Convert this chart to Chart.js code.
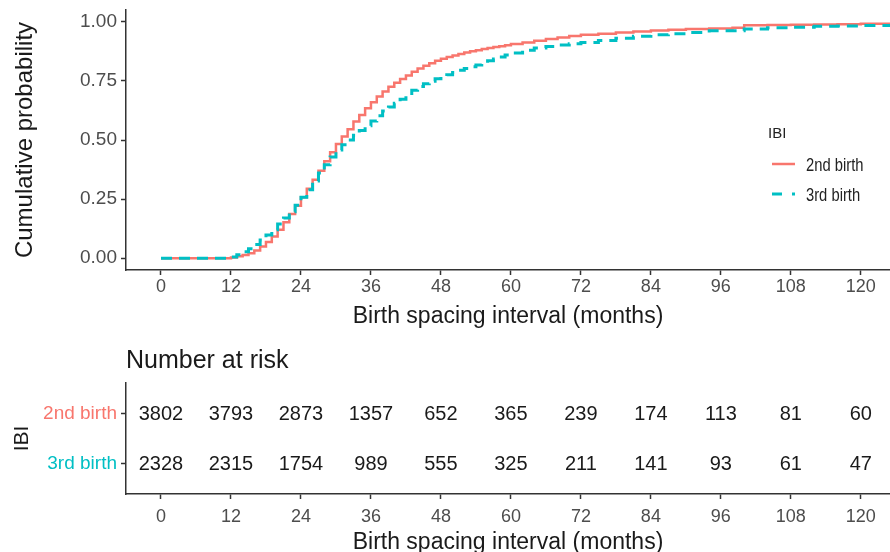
<!DOCTYPE html>
<html>
<head>
<meta charset="utf-8">
<script src="https://cdn.jsdelivr.net/npm/chart.js@4.4.1/dist/chart.umd.min.js"></script>
<style>
html, body { margin: 0; padding: 0; background: #fff; overflow: hidden; }
#cumInc { position: absolute; left: 0; top: 0; }
#riskTable { position: absolute; left: 0; top: 330px; }
</style>
</head>
<body>
<canvas id="cumInc" width="890" height="330"></canvas>
<canvas id="riskTable" width="890" height="226"></canvas>
<script>
// cumulative probability curves
var months = [0, 12, 13, 14, 15, 16, 17, 18, 19, 20, 21, 22, 23, 24, 25, 26, 27, 28, 29, 30,
    31, 32, 33, 34, 35, 36, 37, 38, 39, 40, 41, 42, 43, 44, 45, 46, 47, 48, 49, 50,
    51, 52, 53, 54, 55, 56, 57, 58, 59, 60, 62, 64, 66, 68, 70, 72, 75, 78, 81, 84,
    87, 90, 94, 98, 100, 104, 108, 112, 116, 120, 125];
var cum2nd = [0, 0.003, 0.008, 0.013, 0.021, 0.033, 0.049, 0.068, 0.092, 0.12, 0.152, 0.187, 0.222, 0.258, 0.294, 0.332, 0.37, 0.41, 0.448, 0.483,
    0.515, 0.546, 0.578, 0.606, 0.634, 0.66, 0.684, 0.705, 0.725, 0.742, 0.758, 0.773, 0.789, 0.803, 0.814, 0.825, 0.835, 0.844, 0.851, 0.858,
    0.864, 0.87, 0.875, 0.88, 0.885, 0.889, 0.893, 0.897, 0.901, 0.906, 0.913, 0.92, 0.927, 0.934, 0.94, 0.945, 0.95, 0.955, 0.959, 0.963,
    0.966, 0.97, 0.972, 0.975, 0.985, 0.987, 0.988, 0.989, 0.99, 0.992, 0.994];
var cum3rd = [0, 0.005, 0.015, 0.027, 0.04, 0.058, 0.077, 0.098, 0.12, 0.145, 0.17, 0.196, 0.224, 0.258, 0.29, 0.327, 0.36, 0.395, 0.428, 0.458,
    0.48, 0.5, 0.52, 0.54, 0.56, 0.58, 0.603, 0.623, 0.64, 0.655, 0.672, 0.69, 0.71, 0.726, 0.738, 0.749, 0.759, 0.767, 0.776, 0.786,
    0.795, 0.803, 0.81, 0.817, 0.826, 0.835, 0.843, 0.851, 0.86, 0.868, 0.88, 0.889, 0.896, 0.902, 0.907, 0.912, 0.921, 0.931, 0.939, 0.945,
    0.95, 0.955, 0.962, 0.962, 0.97, 0.975, 0.977, 0.981, 0.982, 0.984, 0.987];

var monthTicks = [0, 12, 24, 36, 48, 60, 72, 84, 96, 108, 120];
var probTicks = [0, 0.25, 0.5, 0.75, 1];

// number at risk table
var riskGroups = ['2nd birth', '3rd birth'];
var risk2nd = [3802, 3793, 2873, 1357, 652, 365, 239, 174, 113, 81, 60];
var risk3rd = [2328, 2315, 1754, 989, 555, 325, 211, 141, 93, 61, 47];

var red = '#F8766D';
var teal = '#00BFC4';
var axisCol = '#333333';
var tickCol = '#4d4d4d';
var titleCol = '#1a1a1a';
var fam = "'Liberation Sans', Arial, sans-serif";

Chart.defaults.font.family = fam;
Chart.defaults.animation = false;

function points(xs, ys) {
    return xs.map(function (m, i) { return { x: m, y: ys[i] }; });
}

function xScale(height, pad) {
    return {
        type: 'linear',
        min: -6,
        max: 125,
        afterBuildTicks: function (s) { s.ticks = monthTicks.map(function (v) { return { value: v }; }); },
        afterFit: function (s) { s.height = height; },
        grid: { drawOnChartArea: false, tickLength: 5, tickColor: axisCol, tickWidth: 1.5 },
        border: { color: axisCol, width: 1.5 },
        ticks: { color: tickCol, font: { size: 18 }, padding: pad, maxRotation: 0, autoSkip: false },
        title: {
            display: true, text: 'Birth spacing interval (months)', color: titleCol,
            font: { size: 23 }, padding: { top: 0, bottom: 0 }
        }
    };
}

var ibiLegend = {
    id: 'ibiLegend',
    afterDraw: function (chart) {
        var c = chart.ctx;
        c.save();
        c.textBaseline = 'middle';
        c.fillStyle = '#222';
        c.font = "15px " + fam;
        c.fillText('IBI', 768, 134);
        chart.data.datasets.forEach(function (ds, i) {
            var y = 164 + i * 30;
            c.strokeStyle = ds.borderColor;
            c.lineWidth = ds.borderWidth;
            c.setLineDash(ds.borderDash ? [10, 10] : []);
            c.beginPath();
            c.moveTo(772, y);
            c.lineTo(795, y);
            c.stroke();
            c.setLineDash([]);
            // the legend labels are set in a narrow face
            c.save();
            c.translate(806, y + 2);
            c.scale(0.82, 1);
            c.fillStyle = '#222';
            c.font = "18px " + fam;
            c.fillText(ds.label, 0, 0);
            c.restore();
        });
        c.restore();
    }
};

new Chart(document.getElementById('cumInc').getContext('2d'), {
    type: 'line',
    data: {
        datasets: [
            {
                label: riskGroups[0],
                data: points(months, cum2nd),
                borderColor: red,
                borderWidth: 2.5,
                stepped: 'before',
                pointRadius: 0,
                fill: false,
                order: 1
            },
            {
                label: riskGroups[1],
                data: points(months, cum3rd),
                borderColor: teal,
                borderWidth: 3,
                borderDash: [11, 7],
                stepped: 'before',
                pointRadius: 0,
                fill: false,
                order: 0
            }
        ]
    },
    options: {
        responsive: false,
        animation: false,
        layout: { padding: { top: 10, right: 0, bottom: 0, left: 0 } },
        plugins: { legend: { display: false }, tooltip: { enabled: false } },
        scales: {
            x: xScale(60, 1),
            y: {
                min: -0.05,
                max: 1.05,
                afterBuildTicks: function (s) { s.ticks = probTicks.map(function (v) { return { value: v }; }); },
                afterFit: function (s) { s.width = 126; s.paddingTop = 0; s.paddingBottom = 0; },
                grid: { drawOnChartArea: false, tickLength: 5, tickColor: axisCol, tickWidth: 1.5 },
                border: { color: axisCol, width: 1.5 },
                ticks: {
                    color: tickCol, font: { size: 19 }, padding: 4,
                    callback: function (v) { return v.toFixed(2); }
                },
                title: {
                    display: true, text: 'Cumulative probability', color: titleCol,
                    font: { size: 24 }, padding: { top: 11, bottom: 0 }
                }
            }
        }
    },
    plugins: [ibiLegend]
});

// risk table: invisible points, numbers written at their positions
var riskLabels = {
    id: 'riskLabels',
    afterDatasetsDraw: function (chart) {
        var c = chart.ctx;
        c.save();
        c.font = "20px " + fam;
        c.fillStyle = '#1a1a1a';
        c.textAlign = 'center';
        c.textBaseline = 'middle';
        chart.data.datasets.forEach(function (ds, i) {
            chart.getDatasetMeta(i).data.forEach(function (pt, j) {
                c.fillText(String(ds.counts[j]), pt.x, pt.y + 1);
            });
        });
        c.textAlign = 'left';
        c.font = "25px " + fam;
        c.fillText('Number at risk', chart.chartArea.left, 31);
        c.restore();
    }
};

new Chart(document.getElementById('riskTable').getContext('2d'), {
    type: 'scatter',
    data: {
        datasets: [
            { label: riskGroups[0], data: points(monthTicks, monthTicks.map(function () { return 2; })), counts: risk2nd, pointRadius: 0 },
            { label: riskGroups[1], data: points(monthTicks, monthTicks.map(function () { return 1; })), counts: risk3rd, pointRadius: 0 }
        ]
    },
    options: {
        responsive: false,
        animation: false,
        layout: { padding: { top: 53, right: 0, bottom: 0, left: 0 } },
        plugins: { legend: { display: false }, tooltip: { enabled: false } },
        scales: {
            x: xScale(62, 7),
            y: {
                min: 0.4,
                max: 2.6,
                afterBuildTicks: function (s) { s.ticks = [{ value: 1 }, { value: 2 }]; },
                afterFit: function (s) { s.width = 126; s.paddingTop = 0; s.paddingBottom = 0; },
                grid: { drawOnChartArea: false, tickLength: 5, tickColor: axisCol, tickWidth: 1.5 },
                border: { color: axisCol, width: 1.5 },
                ticks: {
                    font: { size: 19 }, padding: 4,
                    color: function (ctx) { return ctx.tick && ctx.tick.value === 2 ? red : teal; },
                    callback: function (v) { return riskGroups[2 - v]; }
                },
                title: {
                    display: true, text: 'IBI', color: titleCol,
                    font: { size: 21 }, padding: { top: 10, bottom: 0 }
                }
            }
        }
    },
    plugins: [riskLabels]
});
</script>
</body>
</html>
